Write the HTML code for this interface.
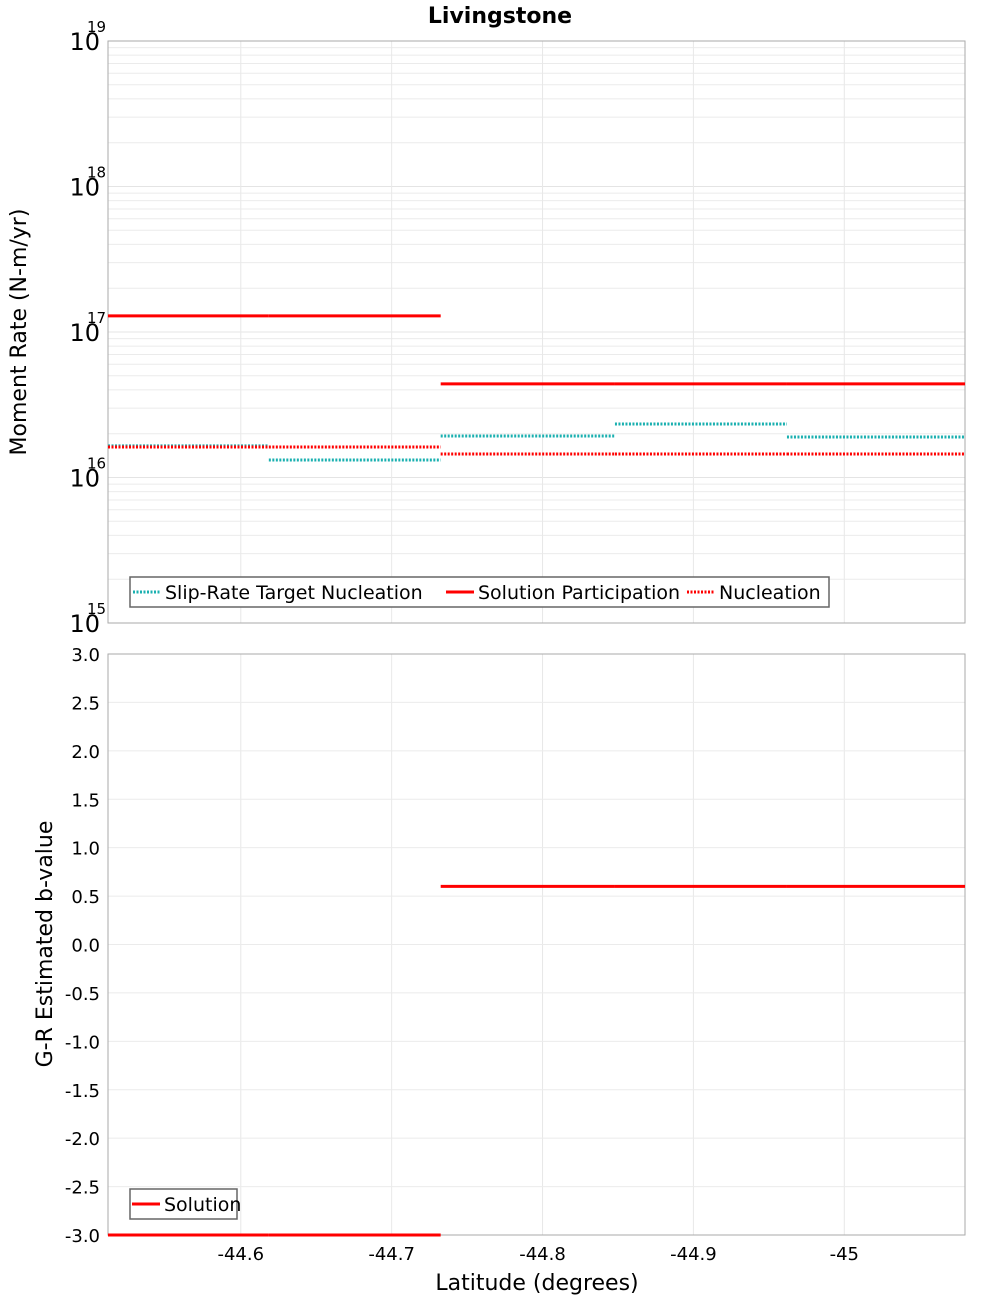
<!DOCTYPE html>
<html><head><meta charset="utf-8"><style>
body{margin:0;background:#fff;}
svg{display:block;font-family:"DejaVu Sans","Liberation Sans",sans-serif;}
</style></head><body>
<svg id="c" width="1000" height="1300" xmlns="http://www.w3.org/2000/svg"></svg>
<script>
const segEdges = [-44.512, -44.6186, -44.7325, -44.848, -44.962, -45.080];
const slipTarget = [1.65e16, 1.32e16, 1.93e16, 2.33e16, 1.9e16];
const solutionPart = [1.29e17, 1.29e17, 4.4e16, 4.4e16, 4.4e16];
const nucleation = [1.62e16, 1.62e16, 1.45e16, 1.45e16, 1.45e16];
const bValues = [-3.0, -3.0, 0.6, 0.6, 0.6];
const xTicks = [-44.6, -44.7, -44.8, -44.9, -45];
const xTickLabels = ["-44.6", "-44.7", "-44.8", "-44.9", "-45"];
const logTicks = [15, 16, 17, 18, 19];
const bTicks = [3.0, 2.5, 2.0, 1.5, 1.0, 0.5, 0.0, -0.5, -1.0, -1.5, -2.0, -2.5, -3.0];

const L = 108, R = 965, T1 = 41, B1 = 623, T2 = 654, B2 = 1235;
const xMin = -44.512, xMax = -45.080;
const sx = v => L + (v - xMin) / (xMax - xMin) * (R - L);
const sy1 = v => B1 - (Math.log10(v) - 15) / 4 * (B1 - T1);
const sy2 = v => B2 - (v + 3) / 6 * (B2 - T2);
const svg = document.getElementById('c');
const NS = 'http://www.w3.org/2000/svg';
function mk(tag, attrs, parent) {
  const e = document.createElementNS(NS, tag);
  for (const k in attrs) e.setAttribute(k, attrs[k]);
  (parent || svg).appendChild(e);
  return e;
}
function txt(s, attrs) { const e = mk('text', attrs); e.textContent = s; return e; }

// title
const title = txt('Livingstone', {x: 500, y: 23, 'text-anchor': 'middle', 'font-size': 22, 'font-weight': 'bold'});



// Top panel grid
const g1 = mk('g', {});


for (let d = 15; d < 19; d++) {
  for (let m = 2; m <= 9; m++) {
    const y = sy1(m * Math.pow(10, d));
    mk('line', {x1: L, x2: R, y1: y, y2: y, stroke: '#ebebeb', 'stroke-width': 1}, g1);
  }
}
logTicks.forEach(t => { const y = sy1(Math.pow(10, t)); mk('line', {x1: L, x2: R, y1: y, y2: y, stroke: '#e4e4e4'}, g1); });
xTicks.forEach(t => { const x = sx(t); mk('line', {x1: x, x2: x, y1: T1, y2: B1, stroke: '#e8e8e8'}, g1); mk('line', {x1: x, x2: x, y1: T2, y2: B2, stroke: '#e8e8e8'}, g1); });
bTicks.forEach(t => { const y = sy2(t); mk('line', {x1: L, x2: R, y1: y, y2: y, stroke: '#ebebeb'}, g1); });

// frames
const f1 = mk('rect', {x: L, y: T1, width: R - L, height: B1 - T1, fill: 'none', stroke: '#aaa'});


const f2 = mk('rect', {x: L, y: T2, width: R - L, height: B2 - T2, fill: 'none', stroke: '#aaa'});



// top y tick labels
logTicks.forEach(t => {
  const y = sy1(Math.pow(10, t));
  const e = txt('10', {x: 100, y: y + 9, 'text-anchor': 'end', 'font-size': 24});
  
  
  const s = txt(String(t), {x: 87, y: y - 9, 'font-size': 15});
  
  
});
const yt1 = txt('Moment Rate (N-m/yr)', {x: 0, y: 0, 'font-size': 22, 'text-anchor': 'middle', transform: 'translate(26,332) rotate(-90)'});



// bottom y tick labels
bTicks.forEach(t => {
  const e = txt(t.toFixed(1), {x: 100, y: sy2(t) + 7, 'text-anchor': 'end', 'font-size': 18});
  
  
});
const yt2 = txt('G-R Estimated b-value', {x: 0, y: 0, 'font-size': 22, 'text-anchor': 'middle', transform: 'translate(52,944) rotate(-90)'});



// x tick labels
xTicks.forEach((t, i) => {
  const e = txt(xTickLabels[i], {x: sx(t), y: 1260, 'text-anchor': 'middle', 'font-size': 18});
  
  
});
const xt = txt('Latitude (degrees)', {x: 537, y: 1290, 'text-anchor': 'middle', 'font-size': 22});



// series
function steps(vals, sy, color, dash, name) {
  const g = mk('g', {});
  
  
  vals.forEach((v, i) => {
    const y = sy(v);
    const a = {x1: sx(segEdges[i]), x2: sx(segEdges[i + 1]), y1: y, y2: y, stroke: color, 'stroke-width': 3};
    if (dash) a['stroke-dasharray'] = '2,1.5';
    const l = mk('line', a, g);
    
    
  });
}
steps(slipTarget, sy1, '#1ab0b0', true, 'slip-rate-target-nucleation');
steps(solutionPart, sy1, '#ff0000', false, 'solution-participation');
steps(nucleation, sy1, '#ff0000', true, 'nucleation');
steps(bValues, sy2, '#ff0000', false, 'solution-b-value');

// legends
function legend(x, y, w, items, name) {
  const g = mk('g', {});
  
  
  mk('rect', {x: x, y: y, width: w, height: 30, fill: '#fff', stroke: '#666', 'stroke-width': 1.5}, g);
  items.forEach(it => {
    const a = {x1: it.x, x2: it.x + 28, y1: y + 15, y2: y + 15, stroke: it.c, 'stroke-width': 3};
    if (it.d) a['stroke-dasharray'] = '2,1.5';
    mk('line', a, g);
    const t = mk('text', {x: it.x + 32, y: y + 22, 'font-size': 19}, g);
    t.textContent = it.t;
    
    
  });
}
legend(130, 577, 699, [
  {x: 133, c: '#1ab0b0', d: true, t: 'Slip-Rate Target Nucleation'},
  {x: 446, c: '#ff0000', d: false, t: 'Solution Participation'},
  {x: 687, c: '#ff0000', d: true, t: 'Nucleation'}
], 'top-legend');
legend(130, 1189, 107, [
  {x: 132, c: '#ff0000', d: false, t: 'Solution'}
], 'bottom-legend');
</script>
</body></html>
